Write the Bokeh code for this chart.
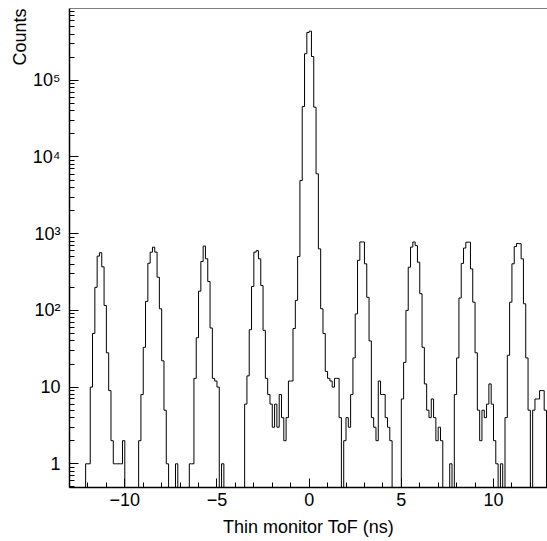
import numpy as np
from bokeh.plotting import figure
from bokeh.models import Range1d, SingleIntervalTicker, FixedTicker, Span, Title
from bokeh.embed import file_html
from bokeh.resources import INLINE

# ---- data (histogram of thin-monitor time of flight) ----
x_min = -13.0
bin_width = 0.125
counts = [
    0, 0, 0, 0, 0, 0, 0, 1, 1, 10, 50, 200, 510, 565, 370, 116, 28, 9, 2, 1, 1, 1, 1, 2, 0,
    0, 0, 0, 0, 0, 2, 8, 33, 131, 412, 575, 667, 575, 271, 105, 22, 5, 1, 0, 0, 0, 1, 0, 0, 0, 0, 0,
    1, 1, 13, 44, 178, 434, 690, 471, 238, 59, 13, 12, 10, 0, 1, 0, 0, 0, 0, 0, 0, 0, 0, 0,
    6, 14, 56, 205, 575, 600, 470, 211, 55, 13, 8, 6, 3, 6, 3, 8, 4, 2, 4, 12, 12,
    58, 135, 505, 4940, 45500, 222000, 420000, 437000, 204000, 44600, 6040, 635, 105, 50, 16, 13, 12, 10, 13, 13, 4,
    0, 2, 4, 3, 8, 24, 90, 450, 780, 780, 405, 148, 40, 4, 3, 2, 12, 8, 8, 4, 3, 2, 0, 0, 0, 0,
    7, 21, 100, 366, 670, 780, 700, 425, 165, 33, 11, 5, 4, 7, 4, 2, 3, 2, 0, 0, 0, 1, 0,
    8, 24, 145, 410, 650, 775, 775, 348, 128, 28, 5, 2, 5, 4, 6, 11, 6, 2, 1, 0, 1, 0,
    4, 26, 128, 405, 680, 745, 740, 470, 122, 24, 5, 0, 5, 7, 7, 9, 9, 5, 0,
]

x_ticks = [-10, -5, 0, 5, 10]
x_tick_labels = ["\u221210", "\u22125", "0", "5", "10"]
y_ticks = [1, 10, 100, 1000, 10000, 100000]
y_tick_labels = ["1", "10", "10\u00b2", "10\u00b3", "10\u2074", "10\u2075"]

x_title = "Thin monitor ToF (ns)"
y_title = "Counts"

# ---- build the step outline ----
edges = x_min + bin_width * np.arange(len(counts) + 1)
y_floor = 0.3  # empty bins drawn down to the bottom of the frame
ys = np.maximum(np.array(counts, dtype=float), y_floor)
ys_step = np.append(ys, ys[-1])

FONT = "Liberation Sans"
Y0, Y1 = 0.491, 8.63e5

p = figure(width=547, height=541, y_axis_type="log",
           x_range=Range1d(-13.0, 12.93), y_range=Range1d(Y0, Y1),
           output_backend="svg", toolbar_location=None,
           min_border_left=69, min_border_right=0, min_border_top=8, min_border_bottom=54)
p.background_fill_color = "white"
p.border_fill_color = "white"
p.outline_line_color = None
p.grid.visible = False

p.step(edges, ys_step, mode="after", line_color="black", line_width=1)

# x axis
xa = p.xaxis[0]
xa.ticker = SingleIntervalTicker(interval=5, num_minor_ticks=5)
xa.major_label_overrides = dict(zip(x_ticks, x_tick_labels))
xa.major_tick_in = 9
xa.major_tick_out = 0
xa.minor_tick_in = 5
xa.minor_tick_out = 0
xa.axis_line_width = 1.5
xa.major_tick_line_width = 1
xa.minor_tick_line_width = 1
xa.major_label_standoff = 5
xa.major_label_text_font = FONT
xa.major_label_text_font_size = "18px"
xa.major_label_text_color = "black"
xa.axis_label = x_title
xa.axis_label_text_font = FONT
xa.axis_label_text_font_size = "18px"
xa.axis_label_text_font_style = "normal"
xa.axis_label_text_color = "black"
xa.axis_label_standoff = 8

# y axis
minor_y = [m * 10.0 ** e for e in range(-1, 6) for m in range(2, 10)]
ya = p.yaxis[0]
ya.ticker = FixedTicker(ticks=y_ticks, minor_ticks=minor_y)
ya.major_label_overrides = dict(zip(y_ticks, y_tick_labels))
ya.major_tick_in = 9
ya.major_tick_out = 0
ya.minor_tick_in = 5
ya.minor_tick_out = 0
ya.axis_line_width = 1.5
ya.major_label_standoff = 9
ya.major_label_text_font = FONT
ya.major_label_text_font_size = "18px"
ya.major_label_text_color = "black"

# frame top line
p.add_layout(Span(location=Y1, dimension="width", line_color="black", line_width=1))

# y title, top-aligned like ROOT
p.add_layout(Title(text=y_title, align="right", text_font=FONT, text_font_size="18px",
                   text_font_style="normal", text_color="black", standoff=0, offset=0), "left")

open("out.html", "w").write(file_html(p, INLINE))
